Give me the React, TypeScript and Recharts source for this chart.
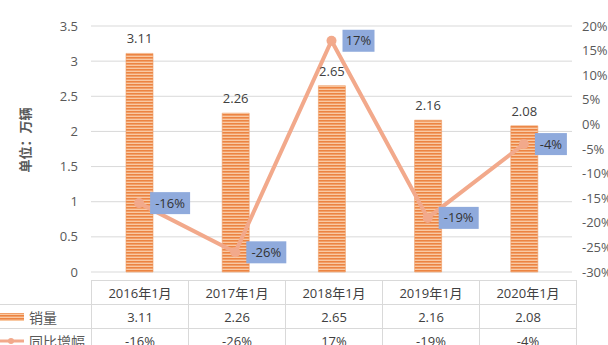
import * as React from 'react'
import { ComposedChart, Bar, Line, XAxis, YAxis, CartesianGrid, LabelList } from 'recharts'

const months = ['2016年1月', '2017年1月', '2018年1月', '2019年1月', '2020年1月']
const sales = [3.11, 2.26, 2.65, 2.16, 2.08]
const growth = [-16, -26, 17, -19, -4]
const leftTicks = [0, 0.5, 1, 1.5, 2, 2.5, 3, 3.5]
const rightTicks = [-30, -25, -20, -15, -10, -5, 0, 5, 10, 15, 20]

const FONT = '"Open Sans", "Noto Sans CJK SC", sans-serif'
const TEXT = '#404040'
const AXIS_TEXT = '#595959'
const GRID = '#d9d9d9'
const LINE = '#f2a98b'
const BOX = '#8faadc'

const data = months.map((m, i) => ({ month: m, sales: sales[i], growth: growth[i] }))

function GrowthLabel(props: any) {
  const { x, y, value } = props
  const text = `${value}%`
  const w = text.length * 8 + 8
  return (
    <g>
      <rect x={x + 11} y={y - 11} width={w} height={22} fill={BOX} />
      <text
        x={x + 11 + w / 2}
        y={y + 1}
        textAnchor="middle"
        dominantBaseline="middle"
        fontSize={13}
        fill="#333"
        fontFamily={FONT}
      >
        {text}
      </text>
    </g>
  )
}

const cell: React.CSSProperties = {
  border: `1px solid ${GRID}`,
  textAlign: 'center',
  padding: 0,
  height: 23,
  fontSize: 13,
  color: TEXT,
  width: 96,
}

function StripeDefs({ id }: { id: string }) {
  return (
    <defs>
      <pattern id={id} width={4} height={3} patternUnits="userSpaceOnUse">
        <rect width={4} height={3} fill="#f9c9a3" />
        <rect width={4} height={1.6} fill="#ec8442" />
      </pattern>
    </defs>
  )
}

export default function App() {
  return (
    <div style={{ position: 'absolute', left: 0, top: 0, width: 608, height: 345, overflow: 'hidden', background: '#fff', fontFamily: FONT }}>
      <ComposedChart
        width={608}
        height={345}
        data={data}
        margin={{ top: 26, right: 0, bottom: 73, left: 0 }}
      >
        <StripeDefs id="stripes" />
        <CartesianGrid yAxisId="left" vertical={false} stroke={GRID} />
        <XAxis dataKey="month" hide />
        <YAxis
          yAxisId="left"
          width={91}
          domain={[0, 3.5]}
          ticks={leftTicks}
          axisLine={false}
          tickLine={false}
          tickMargin={7}
          tick={{ fontSize: 13, fill: AXIS_TEXT, fontFamily: FONT }}
          label={() => (
            <text
              x={27}
              y={140}
              transform="rotate(-90 27 140)"
              textAnchor="middle"
              dominantBaseline="middle"
              fontSize={13}
              fontWeight="bold"
              fill={AXIS_TEXT}
              fontFamily={FONT}
            >
              单位：万辆
            </text>
          )}
        />
        <YAxis
          yAxisId="right"
          orientation="right"
          width={36}
          domain={[-30, 20]}
          ticks={rightTicks}
          axisLine={false}
          tickLine={false}
          tickMargin={4}
          tickFormatter={(v: number) => `${v}%`}
          tick={{ fontSize: 13, fill: AXIS_TEXT, fontFamily: FONT, textAnchor: 'start' }}
        />
        <Bar yAxisId="left" dataKey="sales" barSize={27} fill="url(#stripes)" stroke="#ee9a62" strokeWidth={0.6} isAnimationActive={false}>
          <LabelList dataKey="sales" position="top" offset={10} fill={TEXT} fontSize={13} fontFamily={FONT} />
        </Bar>
        <Line
          yAxisId="right"
          dataKey="growth"
          stroke={LINE}
          strokeWidth={4}
          dot={{ r: 5, fill: LINE, stroke: LINE, strokeWidth: 0 }}
          activeDot={false}
          isAnimationActive={false}
        >
          <LabelList dataKey="growth" content={GrowthLabel} />
        </Line>
      </ComposedChart>
      <table
        style={{
          position: 'absolute',
          left: -1,
          top: 280,
          borderCollapse: 'collapse',
          tableLayout: 'fixed',
          fontFamily: FONT,
        }}
      >
        <tbody>
          <tr>
            <td style={{ ...cell, width: 92, border: 'none', borderRight: `1px solid ${GRID}` }} />
            {months.map((m) => (
              <td key={m} style={cell}>{m}</td>
            ))}
          </tr>
          <tr>
            <td style={{ ...cell, width: 92, textAlign: 'left', fontSize: 14, color: AXIS_TEXT, borderLeft: 'none' }}>
              <span style={{ display: 'inline-flex', alignItems: 'center' }}>
                <svg width={27} height={10} style={{ marginRight: 3 }}>
                  <StripeDefs id="legendStripes" />
                  <rect x={0} y={1} width={25} height={8} fill="url(#legendStripes)" />
                </svg>
                销量
              </span>
            </td>
            {sales.map((v, i) => (
              <td key={i} style={cell}>{v.toFixed(2)}</td>
            ))}
          </tr>
          <tr>
            <td style={{ ...cell, width: 92, textAlign: 'left', fontSize: 14, color: AXIS_TEXT, borderLeft: 'none' }}>
              <span style={{ display: 'inline-flex', alignItems: 'center' }}>
                <svg width={27} height={10} style={{ marginRight: 3 }}>
                  <line x1={0} y1={5} x2={25} y2={5} stroke={LINE} strokeWidth={3} />
                  <circle cx={12} cy={5} r={3} fill={LINE} />
                </svg>
                同比增幅
              </span>
            </td>
            {growth.map((v, i) => (
              <td key={i} style={cell}>{`${v}%`}</td>
            ))}
          </tr>
        </tbody>
      </table>
    </div>
  )
}
